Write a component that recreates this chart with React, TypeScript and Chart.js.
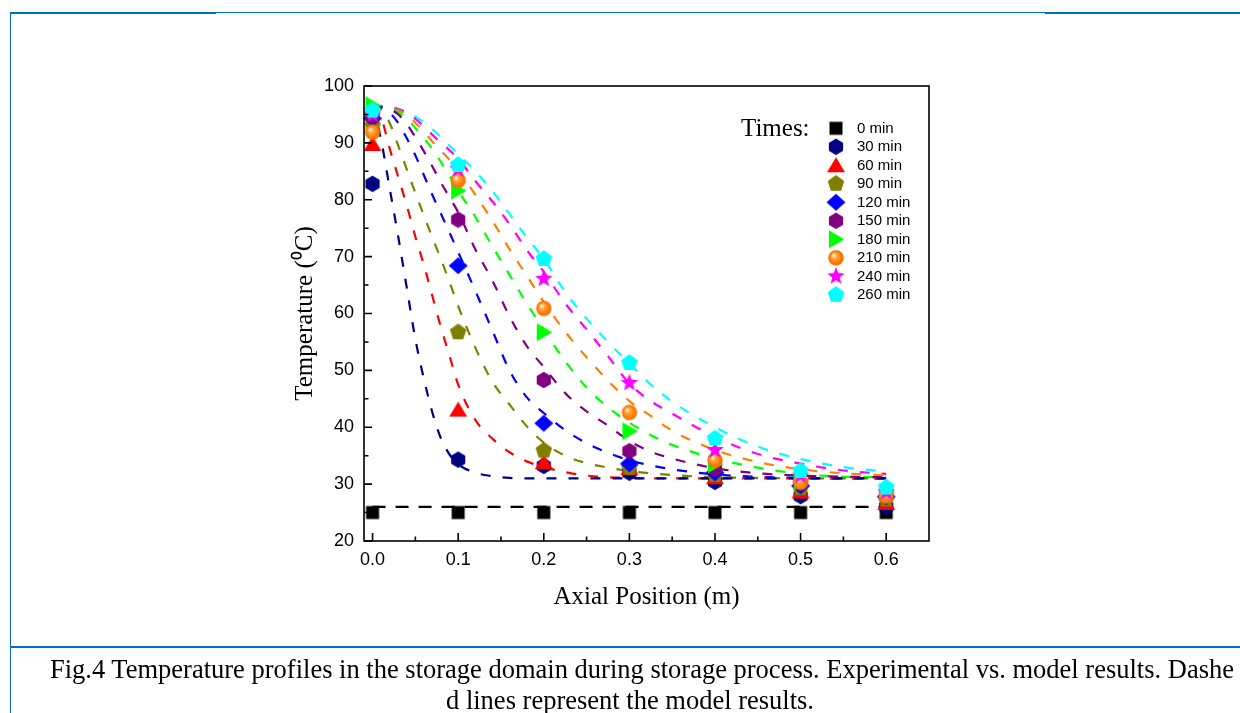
import React, { useEffect, useRef } from 'react';
import { Chart, registerables } from 'chart.js';

Chart.register(...registerables);

// ---------- data ----------
const seriesLabels = ['0 min', '30 min', '60 min', '90 min', '120 min', '150 min', '180 min', '210 min', '240 min', '260 min'];
const seriesColors = ['#000000', '#000080', '#FF0000', '#808000', '#0000FF', '#800080', '#00FF00', '#FF8000', '#FF00FF', '#00FFFF'];

// experimental points (axial position, m)
const sampleX = [0, 0.1, 0.2, 0.3, 0.4, 0.5, 0.6];
const exp0 = [25, 25, 25, 25, 25, 25, 25];
const exp30 = [82.8, 34.3, 33.2, 32.0, 30.4, 27.9, 26.0];
const exp60 = [89.8, 43.1, 33.9, 32.8, 31.2, 28.7, 26.7];
const exp90 = [93.0, 56.7, 35.9, 32.9, 31.6, 29.3, 27.3];
const exp120 = [94.3, 68.4, 40.7, 33.6, 32.0, 29.7, 27.8];
const exp150 = [94.6, 76.5, 48.3, 35.8, 32.7, 30.2, 28.3];
const exp180 = [96.6, 81.6, 56.7, 39.3, 33.5, 30.5, 28.6];
const exp210 = [91.9, 83.4, 60.9, 42.6, 34.2, 30.3, 27.9];
const exp240 = [95.0, 85.4, 66.1, 47.8, 36.0, 31.5, 28.6];
const exp260 = [95.7, 86.1, 69.6, 51.3, 38.0, 32.3, 29.4];

// model (dashed) curves
const model0X = [0, 0.6];
const model0 = [26, 26];
const modelX = [0, 0.01, 0.02, 0.03, 0.04, 0.05, 0.06, 0.07, 0.08, 0.09, 0.1, 0.12, 0.14, 0.16, 0.18, 0.2, 0.225, 0.25, 0.275, 0.3, 0.325, 0.35, 0.4, 0.45, 0.5, 0.55, 0.6];
const model30 = [96.5, 90.5, 82, 73.5, 64.5, 55.5, 48.5, 42.5, 38, 35.2, 33.5, 32, 31.4, 31.1, 31.0, 31.0, 31.0, 31.0, 31.0, 31.0, 31.0, 31.0, 31.0, 31.0, 31.0, 31.0, 31.0];
const model60 = [96.5, 94.5, 89, 84, 79, 73.5, 68.5, 63, 57.5, 52.5, 47.5, 41.3, 38, 35.6, 34, 33, 32.1, 31.5, 31.2, 31.1, 31.0, 31.0, 31.0, 31.0, 31.0, 31.0, 31.0];
const model90 = [96.5, 95.8, 93.5, 89.5, 85.3, 81.2, 77.2, 73.3, 69.5, 65.5, 61.3, 54, 48, 44, 40.2, 37.3, 35, 33.7, 32.9, 32.3, 31.9, 31.6, 31.2, 31.1, 31.0, 31.0, 31.0];
const model120 = [96.5, 96.2, 95.3, 93.5, 90.8, 87.8, 84.3, 80.8, 77.5, 74.2, 70.8, 64, 57, 50, 45.3, 42.5, 39.5, 37.2, 35.5, 34.2, 33.3, 32.6, 31.7, 31.3, 31.1, 31.0, 31.0];
const model150 = [96.5, 96.3, 95.9, 95.0, 93.3, 91.0, 88.5, 85.8, 83.0, 80.4, 77.8, 71.3, 65.8, 59.5, 54.3, 50.6, 46.0, 42.8, 40.3, 37.6, 35.7, 34.5, 32.8, 31.9, 31.5, 31.3, 31.2];
const model180 = [96.5, 96.4, 96.1, 95.4, 94.3, 92.6, 90.8, 88.9, 86.6, 84.2, 81.6, 77.0, 71.8, 66.8, 61.8, 57.2, 51.6, 47.0, 43.5, 40.8, 38.6, 36.9, 34.5, 32.9, 31.8, 31.3, 31.2];
const model210 = [96.5, 96.4, 96.2, 95.7, 95.0, 93.5, 92.0, 90.2, 88.6, 87.0, 85.2, 80.9, 76.3, 71.3, 66.7, 62.0, 56.8, 52.3, 48.2, 44.6, 42.0, 39.4, 36.0, 33.9, 32.6, 31.9, 31.5];
const model240 = [96.5, 96.4, 96.3, 95.9, 95.3, 94.2, 92.9, 91.4, 90.0, 88.7, 87.2, 83.3, 79.7, 75.7, 71.2, 67.3, 61.8, 57.2, 52.5, 47.7, 44.6, 42.4, 38.3, 35.3, 33.6, 32.4, 31.8];
const model260 = [96.5, 96.5, 96.4, 96.0, 95.4, 94.6, 93.6, 92.4, 91.0, 89.5, 88.0, 85.0, 81.5, 77.5, 73.4, 69.6, 63.8, 59.1, 55.0, 51.2, 47.5, 44.5, 40.0, 36.6, 34.4, 33.0, 32.2];

// axes
const xTickValues = [0, 0.1, 0.2, 0.3, 0.4, 0.5, 0.6];
const xMinorTicks = [0.05, 0.15, 0.25, 0.35, 0.45, 0.55];
const yTickValues = [20, 30, 40, 50, 60, 70, 80, 90, 100];
const yMinorTicks = [25, 35, 45, 55, 65, 75, 85, 95];

const xAxisTitle = 'Axial Position (m)';
const yAxisTitle = 'Temperature (\u2070C)';
const legendTitle = 'Times:';
const captionLine1 = 'Fig.4 Temperature profiles in the storage domain during storage process. Experimental vs. model results. Dashe';
const captionLine2 = 'd lines represent the model results.';

const expSeries = [exp0, exp30, exp60, exp90, exp120, exp150, exp180, exp210, exp240, exp260];
const modelSeries = [model0, model30, model60, model90, model120, model150, model180, model210, model240, model260];

const SANS = '"Liberation Sans", Arial, sans-serif';
const SERIF = '"Liberation Serif", "Times New Roman", serif';

// ---------- markers ----------
function makeCanvas(draw: (ctx: CanvasRenderingContext2D) => void, size = 24) {
  const c = document.createElement('canvas');
  c.width = size;
  c.height = size;
  const ctx = c.getContext('2d') as CanvasRenderingContext2D;
  ctx.translate(size / 2, size / 2);
  draw(ctx);
  return c;
}
function fillPoly(ctx: CanvasRenderingContext2D, pts: number[][], color: string) {
  ctx.beginPath();
  pts.forEach((p, i) => (i ? ctx.lineTo(p[0], p[1]) : ctx.moveTo(p[0], p[1])));
  ctx.closePath();
  ctx.fillStyle = color;
  ctx.fill();
}
function regular(n: number, r: number, startDeg: number) {
  const pts: number[][] = [];
  for (let k = 0; k < n; k++) {
    const a = ((startDeg + (360 / n) * k) * Math.PI) / 180;
    pts.push([r * Math.cos(a), r * Math.sin(a)]);
  }
  return pts;
}
function star(ro: number, ri: number) {
  const pts: number[][] = [];
  for (let k = 0; k < 10; k++) {
    const r = k % 2 ? ri : ro;
    const a = ((-90 + 36 * k) * Math.PI) / 180;
    pts.push([r * Math.cos(a), r * Math.sin(a)]);
  }
  return pts;
}
function buildMarkers() {
  return [
    makeCanvas((c) => { c.fillStyle = seriesColors[0]; c.fillRect(-6.5, -6.5, 13, 13); }),
    makeCanvas((c) => fillPoly(c, regular(6, 8.2, -90), seriesColors[1])),
    makeCanvas((c) => fillPoly(c, [[0, -8], [9, 7], [-9, 7]], seriesColors[2])),
    makeCanvas((c) => fillPoly(c, regular(5, 8.7, -90), seriesColors[3])),
    makeCanvas((c) => fillPoly(c, [[0, -8.5], [9.5, 0], [0, 8.5], [-9.5, 0]], seriesColors[4])),
    makeCanvas((c) => fillPoly(c, regular(6, 8.2, -90), seriesColors[5])),
    makeCanvas((c) => fillPoly(c, [[-7, -9], [8.5, 0], [-7, 9]], seriesColors[6])),
    makeCanvas((c) => {
      const g = c.createRadialGradient(-2.5, -2.8, 0.3, 0, 0, 7.7);
      g.addColorStop(0, '#FFFFFF');
      g.addColorStop(0.3, '#FFA850');
      g.addColorStop(0.7, '#FF8000');
      g.addColorStop(1, '#E86E00');
      c.beginPath();
      c.arc(0, 0, 7.7, 0, Math.PI * 2);
      c.fillStyle = g;
      c.fill();
    }),
    makeCanvas((c) => fillPoly(c, star(9.2, 3.9), seriesColors[8])),
    makeCanvas((c) => fillPoly(c, regular(5, 8.7, -90), seriesColors[9])),
  ];
}

export default function App() {
  const ref = useRef<HTMLCanvasElement>(null);

  useEffect(() => {
    const canvas = ref.current;
    if (!canvas) return;
    const markers = buildMarkers();

    const datasets: any[] = [];
    modelSeries.forEach((vals, i) => {
      const xs = i === 0 ? model0X : modelX;
      datasets.push({
        label: seriesLabels[i] + ' model',
        data: xs.map((x, j) => ({ x, y: vals[j] })),
        showLine: true,
        borderColor: seriesColors[i],
        borderWidth: 2.2,
        borderDash: i === 0 ? [13, 10] : [10, 12],
        pointRadius: 0,
        fill: false,
        cubicInterpolationMode: 'monotone',
        order: 100 + i,
        clip: false,
      });
    });
    expSeries.forEach((vals, i) => {
      datasets.push({
        label: seriesLabels[i],
        data: sampleX.map((x, j) => ({ x, y: vals[j] })),
        showLine: false,
        pointStyle: markers[i],
        pointRadius: 7,
        pointHoverRadius: 7,
        backgroundColor: seriesColors[i],
        borderColor: seriesColors[i],
        order: 20 - i,
        clip: false,
      });
    });

    const frameAndLegend = {
      id: 'frameAndLegend',
      afterDraw(chart: any) {
        const { ctx, chartArea: a, scales } = chart;
        const xs = scales.x;
        const ys = scales.y;
        ctx.save();
        ctx.strokeStyle = '#000';
        ctx.lineWidth = 1.6;
        ctx.strokeRect(a.left, a.top, a.right - a.left, a.bottom - a.top);
        ctx.beginPath();
        xTickValues.forEach((v) => { const p = xs.getPixelForValue(v); ctx.moveTo(p, a.bottom); ctx.lineTo(p, a.bottom - 8); });
        xMinorTicks.forEach((v) => { const p = xs.getPixelForValue(v); ctx.moveTo(p, a.bottom); ctx.lineTo(p, a.bottom - 4.5); });
        yTickValues.forEach((v) => { const p = ys.getPixelForValue(v); ctx.moveTo(a.left, p); ctx.lineTo(a.left + 8, p); });
        yMinorTicks.forEach((v) => { const p = ys.getPixelForValue(v); ctx.moveTo(a.left, p); ctx.lineTo(a.left + 4.5, p); });
        ctx.stroke();

        // legend
        ctx.fillStyle = '#000';
        ctx.font = '25px ' + SERIF;
        ctx.textAlign = 'left';
        ctx.textBaseline = 'alphabetic';
        ctx.fillText(legendTitle, 741, 136);
        ctx.font = '15px ' + SANS;
        ctx.textBaseline = 'middle';
        seriesLabels.forEach((lab, i) => {
          const y = 128.3 + i * 18.5;
          const m = markers[i];
          ctx.drawImage(m, 836 - m.width / 2, y - m.height / 2);
          ctx.fillStyle = '#000';
          ctx.fillText(lab, 857, y + 0.5);
        });
        ctx.restore();
      },
    };

    const chart = new Chart(canvas, {
      type: 'scatter',
      data: { datasets },
      options: {
        animation: false,
        responsive: false,
        devicePixelRatio: 1,
        events: [],
        layout: { padding: { left: 284, right: 311, top: 86, bottom: 31 } },
        plugins: { legend: { display: false }, tooltip: { enabled: false } },
        scales: {
          x: {
            type: 'linear',
            min: -0.01,
            max: 0.65,
            afterBuildTicks: (s: any) => { s.ticks = xTickValues.map((v) => ({ value: v })); },
            afterFit: (s: any) => { s.height = 73; },
            grid: { display: false, drawTicks: false },
            border: { display: false },
            ticks: {
              color: '#000',
              font: { family: SANS, size: 18 },
              padding: 8,
              maxRotation: 0,
              callback: (v: any) => Number(v).toFixed(1),
            },
            title: { display: true, text: xAxisTitle, color: '#000', font: { family: SERIF, size: 25 }, padding: { top: 0, bottom: 2 } },
          },
          y: {
            type: 'linear',
            min: 20,
            max: 100,
            afterBuildTicks: (s: any) => { s.ticks = yTickValues.map((v) => ({ value: v })); },
            afterFit: (s: any) => { s.width = 80; },
            grid: { display: false, drawTicks: false },
            border: { display: false },
            ticks: { color: '#000', font: { family: SANS, size: 18 }, padding: 10 },
            title: { display: true, text: yAxisTitle, color: '#000', font: { family: SERIF, size: 25 }, padding: { top: 6, bottom: 0 } },
          },
        },
      },
      plugins: [frameAndLegend],
    } as any);

    return () => chart.destroy();
  }, []);

  const blue = '#0070C0';
  return (
    <div style={{ position: 'absolute', left: 0, top: 0, width: 1240, height: 713, overflow: 'hidden', background: '#fff' }}>
      <canvas ref={ref} width={1240} height={645} style={{ position: 'absolute', left: 0, top: 0, width: 1240, height: 645 }} />
      <div style={{ position: 'absolute', left: 10, top: 12, width: 1230, height: 1, background: blue }} />
      <div style={{ position: 'absolute', left: 10, top: 12, width: 206, height: 2, background: blue }} />
      <div style={{ position: 'absolute', left: 1045, top: 12, width: 195, height: 2, background: blue }} />
      <div style={{ position: 'absolute', left: 10, top: 12, width: 1, height: 701, background: blue }} />
      <div style={{ position: 'absolute', left: 10, top: 646, width: 1230, height: 2, background: blue }} />
      <div style={{ position: 'absolute', left: 50, top: 656, whiteSpace: 'nowrap', fontFamily: SERIF, fontSize: 26.5, lineHeight: '27px', color: '#000' }}>
        {captionLine1}
      </div>
      <div style={{ position: 'absolute', left: 0, width: 1260, top: 687, textAlign: 'center', whiteSpace: 'nowrap', fontFamily: SERIF, fontSize: 26.5, lineHeight: '27px', color: '#000' }}>
        {captionLine2}
      </div>
    </div>
  );
}
